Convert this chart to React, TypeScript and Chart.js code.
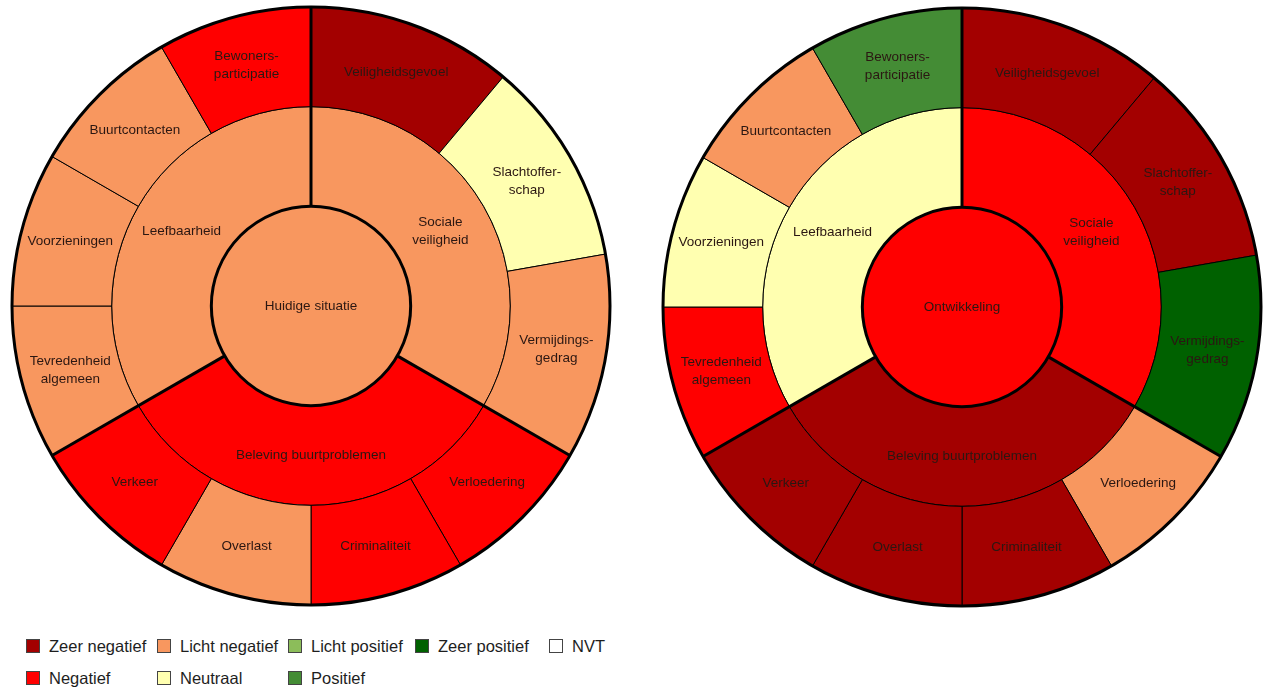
import React, { useEffect, useRef } from 'react';
import { Chart, registerables } from 'chart.js';

Chart.register(...registerables);

// ---- Rating categories (legend) ----
const ratingNames = ['Zeer negatief', 'Negatief', 'Licht negatief', 'Neutraal', 'Licht positief', 'Positief', 'Zeer positief', 'NVT'];
const ratingColors = ['#A30000', '#FF0000', '#F8975F', '#FFFFB0', '#8CBD5A', '#448C35', '#006100', '#FFFFFF'];

// legend order (two rows, column-major as in the reference)
const legendRow1 = ['Zeer negatief', 'Licht negatief', 'Licht positief', 'Zeer positief', 'NVT'];
const legendRow2 = ['Negatief', 'Neutraal', 'Positief'];

// ---- Hierarchy (clockwise from 12 o'clock) ----
const outerLabels = ['Veiligheidsgevoel', 'Slachtoffer-\nschap', 'Vermijdings-\ngedrag', 'Verloedering', 'Criminaliteit', 'Overlast', 'Verkeer', 'Tevredenheid\nalgemeen', 'Voorzieningen', 'Buurtcontacten', 'Bewoners-\nparticipatie'];
const outerValues = [40, 40, 40, 30, 30, 30, 30, 30, 30, 30, 30];
const middleLabels = ['Sociale\nveiligheid', 'Beleving buurtproblemen', 'Leefbaarheid'];
const middleValues = [120, 120, 120];

// ---- Left chart: Huidige situatie ----
const leftCenterLabel = 'Huidige situatie';
const leftCenterRating = 'Licht negatief';
const leftMiddleRatings = ['Licht negatief', 'Negatief', 'Licht negatief'];
const leftOuterRatings = ['Zeer negatief', 'Neutraal', 'Licht negatief', 'Negatief', 'Negatief', 'Licht negatief', 'Negatief', 'Licht negatief', 'Licht negatief', 'Licht negatief', 'Negatief'];

// ---- Right chart: Ontwikkeling ----
const rightCenterLabel = 'Ontwikkeling';
const rightCenterRating = 'Negatief';
const rightMiddleRatings = ['Negatief', 'Zeer negatief', 'Neutraal'];
const rightOuterRatings = ['Zeer negatief', 'Zeer negatief', 'Zeer positief', 'Licht negatief', 'Zeer negatief', 'Zeer negatief', 'Zeer negatief', 'Negatief', 'Neutraal', 'Licht negatief', 'Positief'];

const colorOf = (r: string) => ratingColors[ratingNames.indexOf(r)];

const LABEL_FONT = '13.5px "Liberation Sans", Arial, sans-serif';
const LABEL_COLOR = '#2b1712';

const sunburstPlugin = {
  id: 'sunburstDecor',
  afterDatasetsDraw(chart: any) {
    const ctx = chart.ctx as CanvasRenderingContext2D;
    const outerMeta = chart.getDatasetMeta(0);
    const midMeta = chart.getDatasetMeta(1);
    const innerMeta = chart.getDatasetMeta(2);
    const a0: any = outerMeta.data[0];
    const cx = a0.x;
    const cy = a0.y;
    const R = a0.outerRadius;
    const rIn = (innerMeta.data[0] as any).outerRadius;
    ctx.save();
    ctx.strokeStyle = '#000';
    ctx.lineWidth = 3;
    ctx.lineCap = 'butt';
    midMeta.data.forEach((arc: any) => {
      const ang = arc.startAngle;
      ctx.beginPath();
      ctx.moveTo(cx + rIn * Math.cos(ang), cy + rIn * Math.sin(ang));
      ctx.lineTo(cx + R * Math.cos(ang), cy + R * Math.sin(ang));
      ctx.stroke();
    });
    ctx.beginPath();
    ctx.arc(cx, cy, rIn, 0, Math.PI * 2);
    ctx.stroke();
    ctx.beginPath();
    ctx.arc(cx, cy, R, 0, Math.PI * 2);
    ctx.stroke();

    // labels
    ctx.font = LABEL_FONT;
    ctx.fillStyle = LABEL_COLOR;
    ctx.textAlign = 'center';
    ctx.textBaseline = 'middle';
    const lh = 18.5;
    const drawText = (txt: string, x: number, y: number) => {
      const lines = txt.split('\n');
      lines.forEach((ln, i) => {
        ctx.fillText(ln, x, y + (i - (lines.length - 1) / 2) * lh);
      });
    };
    [0, 1].forEach((di) => {
      const meta = chart.getDatasetMeta(di);
      const names = chart.data.datasets[di].names as string[];
      meta.data.forEach((arc: any, i: number) => {
        const p = arc.getCenterPoint();
        drawText(names[i], p.x, p.y);
      });
    });
    drawText((chart.data.datasets[2].names as string[])[0], cx, cy);
    ctx.restore();
  },
};

function Sunburst(props: { centerLabel: string; centerRating: string; middleRatings: string[]; outerRatings: string[]; left: number; top: number }) {
  const ref = useRef<HTMLCanvasElement | null>(null);
  useEffect(() => {
    if (!ref.current) return;
    const chart = new Chart(ref.current, {
      type: 'doughnut',
      data: {
        labels: outerLabels,
        datasets: [
          {
            data: outerValues,
            names: outerLabels,
            backgroundColor: props.outerRatings.map(colorOf),
            borderColor: '#000',
            borderWidth: 1,
          } as any,
          {
            data: middleValues,
            names: middleLabels,
            backgroundColor: props.middleRatings.map(colorOf),
            borderColor: '#000',
            borderWidth: 1,
          } as any,
          {
            data: [360],
            names: [props.centerLabel],
            backgroundColor: [colorOf(props.centerRating)],
            borderWidth: 0,
          } as any,
        ],
      },
      options: {
        responsive: false,
        animation: false,
        events: [],
        cutout: 0,
        radius: 299,
        layout: { padding: 0 },
        plugins: { legend: { display: false }, tooltip: { enabled: false }, title: { display: false } },
      } as any,
      plugins: [sunburstPlugin],
    });
    return () => chart.destroy();
  }, []);
  return (
    <canvas
      ref={ref}
      width={620}
      height={620}
      style={{ position: 'absolute', left: props.left, top: props.top, width: 620, height: 620 }}
    />
  );
}

function LegendItem({ name }: { name: string }) {
  return (
    <div style={{ display: 'flex', alignItems: 'center', height: 32 }}>
      <div
        style={{
          width: 14,
          height: 14,
          boxSizing: 'border-box',
          border: '1px solid #444',
          background: colorOf(name),
          marginRight: 9,
          flex: '0 0 auto',
        }}
      />
      <span style={{ whiteSpace: 'nowrap' }}>{name}</span>
    </div>
  );
}

export default function App() {
  return (
    <div
      style={{
        position: 'fixed',
        left: 0,
        top: 0,
        width: 1266,
        height: 690,
        background: '#fff',
        overflow: 'hidden',
      }}
    >
      <Sunburst centerLabel={leftCenterLabel} centerRating={leftCenterRating} middleRatings={leftMiddleRatings} outerRatings={leftOuterRatings} left={1} top={-4} />
      <Sunburst centerLabel={rightCenterLabel} centerRating={rightCenterRating} middleRatings={rightMiddleRatings} outerRatings={rightOuterRatings} left={652} top={-3} />
      <div
        style={{
          position: 'absolute',
          left: 26,
          top: 630,
          display: 'grid',
          gridTemplateColumns: '131px 131px 127px 134px auto',
          gridAutoRows: '32px',
          font: '16.5px "Liberation Sans", Arial, sans-serif',
          color: '#1e1e1e',
        }}
      >
        {legendRow1.map((n) => (
          <LegendItem key={n} name={n} />
        ))}
        {legendRow2.map((n) => (
          <LegendItem key={n} name={n} />
        ))}
      </div>
    </div>
  );
}
